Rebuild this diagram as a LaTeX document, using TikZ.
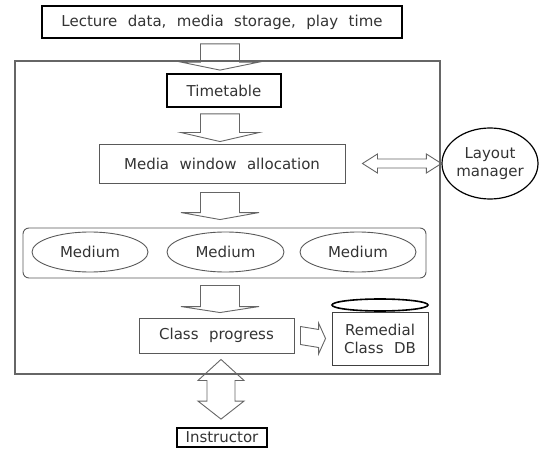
\documentclass[tikz,border=0pt]{standalone}
\usepackage{fontspec}
\setmainfont{DejaVu Sans}[WordSpace=2.2]
\usetikzlibrary{calc,shapes.geometric}
\tikzset{
  txt/.style={font=\fontsize{15}{18}\selectfont, text=black!80, inner sep=0pt, align=center},
  thinbox/.style={txt, draw=black!65, line width=0.9pt, rectangle},
  thickbox/.style={txt, draw=black, line width=1.8pt, rectangle},
  thinell/.style={txt, draw=black!65, line width=0.9pt, ellipse},
  blk/.style={draw=black!60, line width=0.9pt, line join=miter},
  frame/.style={draw=black!60, line width=1.2pt}
}
\newcommand\blockdown[5]{%
  \draw[blk] ($(ax |- #1.south)+(-19.5,-#3)$) -- ($(ax |- #2.north)+(-19.5,#4)$)
    -- ($(ax |- #2.north)+(-39,#4)$) -- ($(ax |- #2.north)+(0,#5)$)
    -- ($(ax |- #2.north)+(39,#4)$) -- ($(ax |- #2.north)+(19.5,#4)$)
    -- ($(ax |- #1.south)+(19.5,-#3)$) -- cycle;}
\begin{document}
\begin{tikzpicture}[x=1pt,y=1pt]
\useasboundingbox (0,0) rectangle (539,451);
% outer frame
\draw[frame] (15,77) rectangle (440,390);
\coordinate (ax) at (220,0);
% nodes
\node[thickbox, minimum width=360, minimum height=32] (top) at (222,429) {Lecture data, media storage, play time};
\node[thickbox, minimum width=114, minimum height=33] (tt) at (224,360.5) {Timetable};
\node[thinbox, minimum width=246, minimum height=39] (media) at (222,287.5) {Media window allocation};
\node[txt, draw=black, line width=1.2pt, ellipse, minimum width=96, minimum height=71] (layout) at (490,287.5) {Layout\\manager};
\node[draw=black!65, line width=0.9pt, rounded corners=6pt, minimum width=403, minimum height=50, inner sep=0pt] (medc) at (224.5,198) {};
\node[thinell, minimum width=116, minimum height=40] (m1) at (90,199) {Medium};
\node[thinell, minimum width=117, minimum height=40] (m2) at (225.5,199) {Medium};
\node[thinell, minimum width=116, minimum height=40] (m3) at (358,199) {Medium};
\node[thinbox, minimum width=155, minimum height=35] (cp) at (216.5,115.5) {Class progress};
\node[thinbox, draw=black!75, minimum width=96, minimum height=53] (db) at (380,112.5) {Remedial\\Class DB};
\node[draw=black, line width=1.6pt, ellipse, minimum width=96, minimum height=12, inner sep=0pt] (dbtop) at (380,146) {};
\node[thickbox, minimum width=90, minimum height=19] (ins) at (222,13.5) {Instructor};
% vertical block arrows
\blockdown{top}{tt}{5}{11}{3}
\blockdown{tt}{media}{6}{11}{2}
\blockdown{media}{medc}{9}{15}{8}
\blockdown{medc}{cp}{7}{11}{5}
% horizontal double arrow media <-> layout
\coordinate (hl) at ($(media.east)+(17,0)$);
\coordinate (hr) at (layout.west);
\draw[blk] (hl) -- ($(hl)+(15,9.5)$) -- ($(hl)+(15,4.5)$) -- ($(hr)+(-15,4.5)$) -- ($(hr)+(-15,9.5)$)
  -- (hr) -- ($(hr)+(-15,-9.5)$) -- ($(hr)+(-15,-4.5)$) -- ($(hl)+(15,-4.5)$) -- ($(hl)+(15,-9.5)$) -- cycle;
% class progress -> DB
\coordinate (rl) at ($(cp.east)+(6,0)$);
\coordinate (rr) at ($(db.west)+(-6,0)$);
\draw[blk] ($(rl)+(0,9)$) -- ($(rr)+(-7,9)$) -- ($(rr)+(-7,15.5)$) -- (rr) -- ($(rr)+(-7,-15.5)$)
  -- ($(rr)+(-7,-9)$) -- ($(rl)+(0,-9)$) -- cycle;
% class progress <-> instructor
\coordinate (vt) at ($(cp.south -| ins.north)+(-1,-6)$);
\coordinate (vb) at ($(ins.north)+(-1,8)$);
\draw[blk] (vt) -- ($(vt)+(23,-21)$) -- ($(vt)+(14,-21)$) -- ($(vb)+(14,18)$) -- ($(vb)+(23,18)$)
  -- (vb) -- ($(vb)+(-23,18)$) -- ($(vb)+(-14,18)$) -- ($(vt)+(-14,-21)$) -- ($(vt)+(-23,-21)$) -- cycle;
\end{tikzpicture}
\end{document}
